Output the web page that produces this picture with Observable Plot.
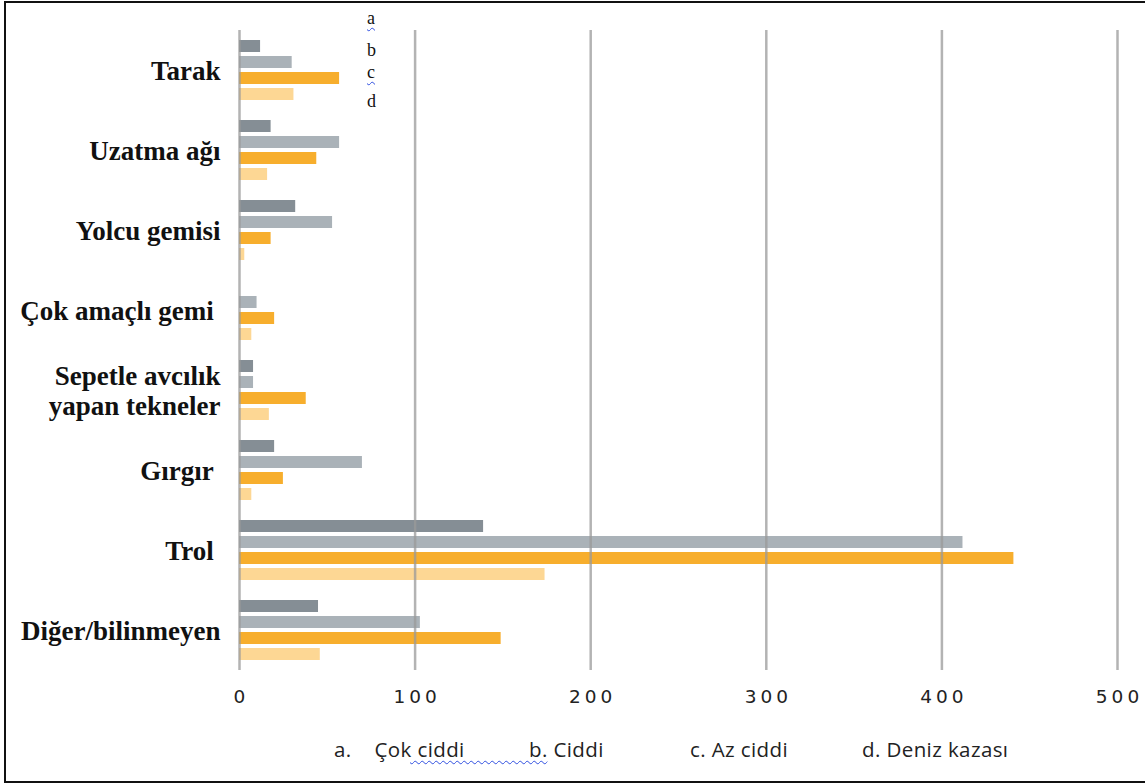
<!DOCTYPE html>
<html>
<head>
<meta charset="utf-8">
<script src="https://cdn.jsdelivr.net/npm/d3@7"></script>
<script src="https://cdn.jsdelivr.net/npm/@observablehq/plot@0.6"></script>
<style>
  html, body { margin: 0; padding: 0; background: #fff; }
  #page { position: relative; width: 1145px; height: 784px; overflow: hidden; background: #fff; }
  #frame { position: absolute; left: 4px; top: 1px; width: 1160px; height: 778px; border: 2.5px solid #111; }
  #chart { position: absolute; left: 0; top: 0; }
  .letter { position: absolute; font-family: "Liberation Serif", serif; font-size: 18px; color: #111; left: 367px; }
  .wavy { text-decoration: underline wavy #3050e0; text-decoration-thickness: 1px; text-underline-offset: 3px; }
  .leg { position: absolute; top: 735px; font-family: "Open Sans", sans-serif; font-size: 20.5px; letter-spacing: 0.4px; color: #222; white-space: nowrap; }
</style>
</head>
<body>
<div id="page">
  <div id="chart"></div>
  <div id="frame"></div>
</div>
<script>
// ---- data ----
const categories = ["Tarak", "Uzatma ağı", "Yolcu gemisi", "Çok amaçlı gemi", "Sepetle avcılık\nyapan tekneler", "Gırgır", "Trol", "Diğer/bilinmeyen"];
const seriesKeys = ["a", "b", "c", "d"];
const seriesNames = ["Çok ciddi", "Ciddi", "Az ciddi", "Deniz kazası"];
const cokCiddi    = [12, 18, 32, 0, 8, 20, 139, 45];
const ciddi       = [30, 57, 53, 10, 8, 70, 412, 103];
const azCiddi     = [57, 44, 18, 20, 38, 25, 441, 149];
const denizKazasi = [31, 16, 3, 7, 17, 7, 174, 46];
const xTicks = [0, 100, 200, 300, 400, 500];
const colors = ["#858e95", "#aab2b8", "#f7ae2d", "#fdd794"];
// labels that carry a trailing space in the original
const paddedLabels = ["Çok amaçlı gemi", "Gırgır", "Trol"];

const seriesValues = [cokCiddi, ciddi, azCiddi, denizKazasi];
const rows = [];
categories.forEach((c, i) => {
  seriesKeys.forEach((k, j) => rows.push({category: c, key: k, value: seriesValues[j][i]}));
});

const chart = Plot.plot({
  width: 1145,
  height: 720,
  marginLeft: 239,
  marginRight: 28,
  marginTop: 26,
  marginBottom: 47,
  style: {background: "transparent"},
  x: {domain: [0, 500], ticks: xTicks, label: null},
  fy: {domain: categories, padding: 0, label: null},
  y: {domain: seriesKeys, paddingInner: 0.22, paddingOuter: 0.6, axis: null},
  color: {domain: seriesKeys, range: colors},
  marks: [
    Plot.barX(rows, {x: "value", y: "key", fy: "category", fill: "key", inset: 0}),
    Plot.ruleX(xTicks, {stroke: "#999", strokeOpacity: 0.75, strokeWidth: 2.5}),
    Plot.axisX({
      ticks: xTicks, tickSize: 0, tickPadding: 19, label: null,
      fontSize: 18.5, fontFamily: "DejaVu Sans", fill: "#222", dx: 2
    }),
    Plot.axisFy({
      anchor: "left", tickSize: 0, tickPadding: 19, label: null,
      tickFormat: d => paddedLabels.includes(d) ? d + "\u00a0" : d,
      fontSize: 27, fontFamily: "Liberation Serif", fontWeight: "bold", fill: "#111",
      lineHeight: 1.12
    })
  ]
});
document.getElementById("chart").appendChild(chart);

chart.querySelectorAll('g[aria-label="x-axis tick label"] text').forEach(t => {
  t.style.letterSpacing = "4px";
});

// ---- overlays: top letters and bottom legend ----
const page = document.getElementById("page");
const letterTops = [8, 40, 62, 91];
seriesKeys.forEach((k, i) => {
  const d = document.createElement("div");
  d.className = "letter";
  d.style.top = letterTops[i] + "px";
  const s = document.createElement("span");
  s.textContent = k;
  if (k === "a" || k === "c") s.className = "wavy";
  d.appendChild(s);
  page.appendChild(d);
});

const legLefts = [334, 529, 690, 862];
seriesKeys.forEach((k, i) => {
  const d = document.createElement("div");
  d.className = "leg";
  d.style.left = legLefts[i] + "px";
  if (i === 0) {
    d.innerHTML = k + ".&nbsp;&nbsp;&nbsp;&nbsp;" + seriesNames[i];
  } else {
    d.textContent = k + ". " + seriesNames[i];
  }
  page.appendChild(d);
});
// wavy spell-check underline from "ciddi" to "b."
const squiggle = document.createElement("div");
squiggle.className = "leg";
squiggle.style.left = "410px";
squiggle.innerHTML = "<span class='wavy' style='color:transparent'>" + "\u00a0".repeat(24) + "</span>";
page.appendChild(squiggle);
</script>
</body>
</html>
